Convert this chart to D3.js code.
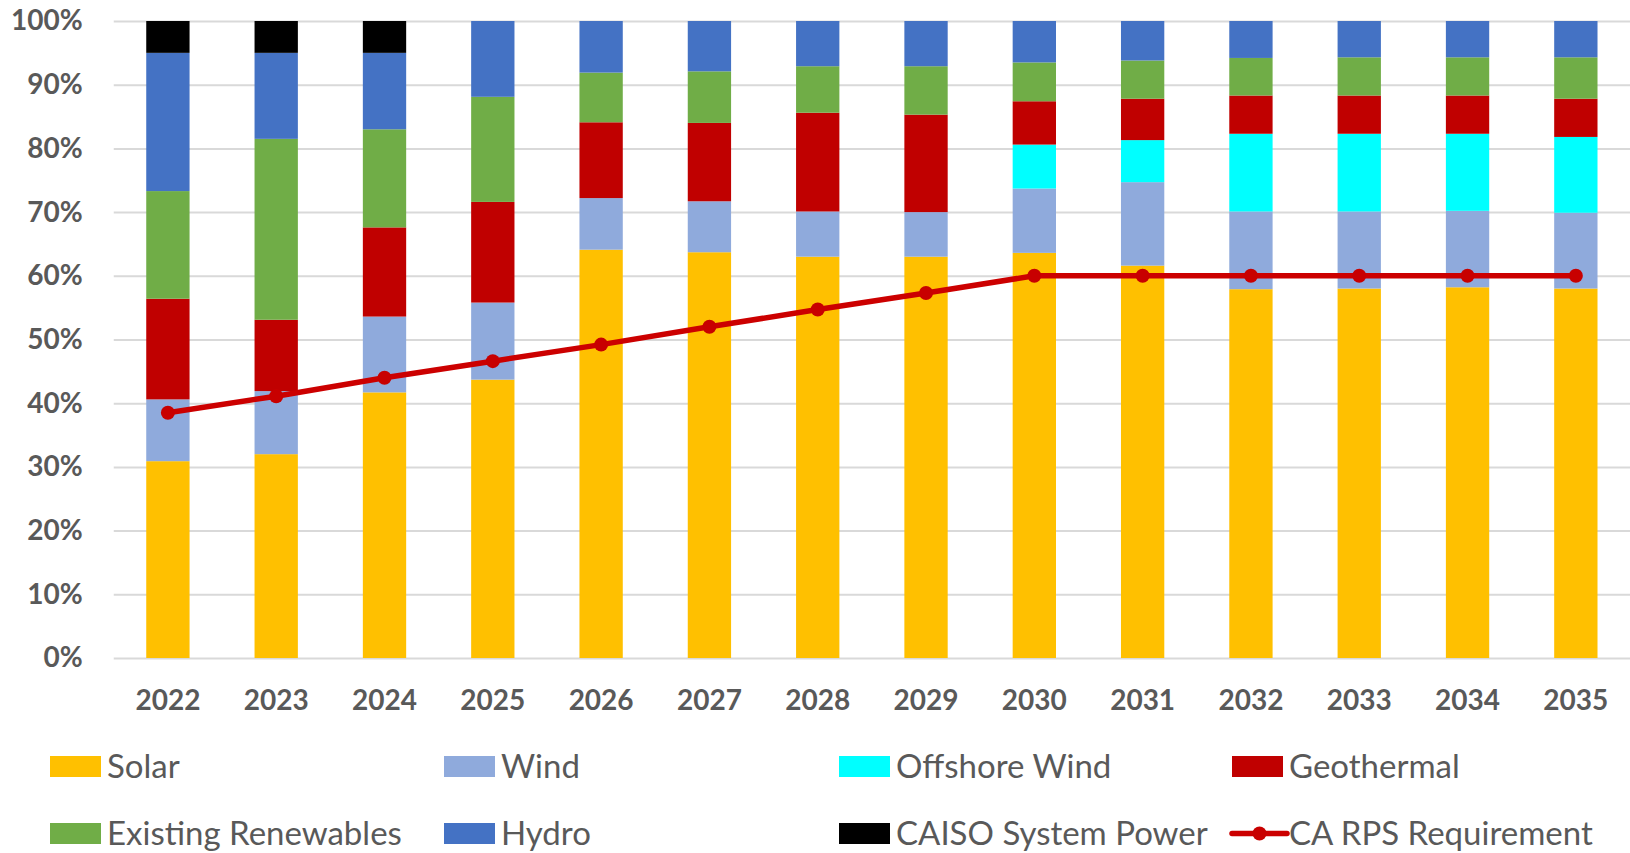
<!DOCTYPE html>
<html>
<head>
<meta charset="utf-8">
<script src="https://cdn.jsdelivr.net/npm/d3@7"></script>
<style>
  html, body { margin: 0; padding: 0; background: #fff; }
  svg { display: block; }
  text { font-family: Lato, "Noto Sans", sans-serif; }
</style>
</head>
<body>
<svg id="chart" width="1630" height="853"></svg>
<script>
// ---- data (percent of retail sales) ----
const years = ["2022","2023","2024","2025","2026","2027","2028","2029","2030","2031","2032","2033","2034","2035"];
const solar    = [30.9, 32.0, 41.7, 43.7, 64.1, 63.7, 63.0, 63.0, 63.6, 61.6, 57.9, 58.0, 58.2, 58.0];
const wind     = [ 9.7,  9.9, 11.9, 12.1,  8.1,  8.0,  7.1,  7.0, 10.1, 13.1, 12.2, 12.1, 12.0, 11.9];
const offshore = [ 0,    0,    0,    0,    0,    0,    0,    0,    6.9,  6.6, 12.2, 12.2, 12.1, 11.9];
const geothermal=[15.8, 11.2, 14.0, 15.8, 11.9, 12.3, 15.5, 15.3,  6.8,  6.5,  6.0,  6.0,  6.0,  6.0];
const existing = [16.9, 28.4, 15.4, 16.5,  7.8,  8.1,  7.3,  7.6,  6.1,  6.0,  5.9,  6.0,  6.0,  6.5];
const hydro    = [21.7, 13.5, 12.0, 11.9,  8.1,  7.9,  7.1,  7.1,  6.5,  6.2,  5.8,  5.7,  5.7,  5.7];
const caiso    = [ 5.0,  5.0,  5.0,  0,    0,    0,    0,    0,    0,    0,    0,    0,    0,    0];
const rps      = [38.5, 41.1, 44.0, 46.6, 49.2, 52.0, 54.7, 57.3, 60.0, 60.0, 60.0, 60.0, 60.0, 60.0];
const yTicks   = [0, 10, 20, 30, 40, 50, 60, 70, 80, 90, 100];

const seriesNames  = ["Solar","Wind","Offshore Wind","Geothermal","Existing Renewables","Hydro","CAISO System Power"];
const seriesValues = [solar, wind, offshore, geothermal, existing, hydro, caiso];
const seriesColors = ["#FFC000","#8FAADC","#00FFFF","#C00000","#70AD47","#4472C4","#000000"];
const lineName = "CA RPS Requirement";
const lineColor = "#CC0000";

// ---- layout ----
const svg = d3.select("#chart");
const mLeft = 113.75, mRight = 1630, mTop = 21, mBottom = 658;

const x = d3.scaleBand().domain(years).range([mLeft, mRight]).paddingInner(0.6).paddingOuter(0.3);
const y = d3.scaleLinear().domain([0, 100]).range([mBottom, mTop]);

// rows for stacking
const rows = years.map((yr, i) => {
  const r = { year: yr };
  seriesNames.forEach((n, k) => r[n] = seriesValues[k][i]);
  return r;
});
const stacked = d3.stack().keys(seriesNames)(rows);

// gridlines + y labels
const yAxis = d3.axisLeft(y).tickValues(yTicks).tickFormat(d => d + "%")
  .tickSize(-(mRight - mLeft)).tickPadding(31);
const gy = svg.append("g").attr("transform", `translate(${mLeft},0)`).call(yAxis);
gy.select(".domain").remove();
gy.selectAll(".tick line").attr("stroke", "#D9D9D9").attr("stroke-width", 2);
gy.selectAll(".tick text").attr("fill", "#595959").style("font-size", "28px").style("font-weight", 700);

// x labels
const xAxis = d3.axisBottom(x).tickSize(0).tickPadding(32);
const gx = svg.append("g").attr("transform", `translate(0,${mBottom})`).call(xAxis);
gx.select(".domain").remove();
gx.selectAll(".tick text").attr("fill", "#595959").style("font-size", "28px").style("font-weight", 700);

// bars
svg.append("g").selectAll("g").data(stacked).join("g")
  .attr("fill", (d, i) => seriesColors[i])
  .selectAll("rect").data(d => d).join("rect")
  .attr("x", d => x(d.data.year))
  .attr("width", x.bandwidth())
  .attr("y", d => y(d[1]))
  .attr("height", d => Math.max(0, y(d[0]) - y(d[1])));

// RPS line
const line = d3.line().x((d, i) => x(years[i]) + x.bandwidth() / 2).y(d => y(d));
svg.append("path").datum(rps).attr("d", line)
  .attr("fill", "none").attr("stroke", lineColor).attr("stroke-width", 5.5).attr("stroke-linejoin", "round");
svg.append("g").selectAll("circle").data(rps).join("circle")
  .attr("cx", (d, i) => x(years[i]) + x.bandwidth() / 2)
  .attr("cy", d => y(d))
  .attr("r", 7).attr("fill", "#C80000");

// legend
const legendItems = [
  { name: "Solar", color: seriesColors[0], col: 0, row: 0 },
  { name: "Wind", color: seriesColors[1], col: 1, row: 0 },
  { name: "Offshore Wind", color: seriesColors[2], col: 2, row: 0 },
  { name: "Geothermal", color: seriesColors[3], col: 3, row: 0 },
  { name: "Existing Renewables", color: seriesColors[4], col: 0, row: 1 },
  { name: "Hydro", color: seriesColors[5], col: 1, row: 1 },
  { name: "CAISO System Power", color: seriesColors[6], col: 2, row: 1 },
  { name: lineName, color: lineColor, col: 3, row: 1, isLine: true }
];
const colX = [50, 444, 839, 1232];
const rowY = [756, 823];
const lg = svg.append("g");
legendItems.forEach(it => {
  const gx0 = colX[it.col], gy0 = rowY[it.row];
  if (it.isLine) {
    lg.append("line").attr("x1", gx0).attr("x2", gx0 + 55).attr("y1", gy0 + 10.5).attr("y2", gy0 + 10.5)
      .attr("stroke", it.color).attr("stroke-width", 5.5).attr("stroke-linecap", "round");
    lg.append("circle").attr("cx", gx0 + 27.5).attr("cy", gy0 + 10.5).attr("r", 7).attr("fill", "#C80000");
  } else {
    lg.append("rect").attr("x", gx0).attr("y", gy0).attr("width", 51).attr("height", 21).attr("fill", it.color);
  }
  lg.append("text").attr("x", gx0 + 57).attr("y", gy0 + 22)
    .attr("fill", "#595959").style("font-size", "33px").text(it.name);
});
</script>
</body>
</html>
